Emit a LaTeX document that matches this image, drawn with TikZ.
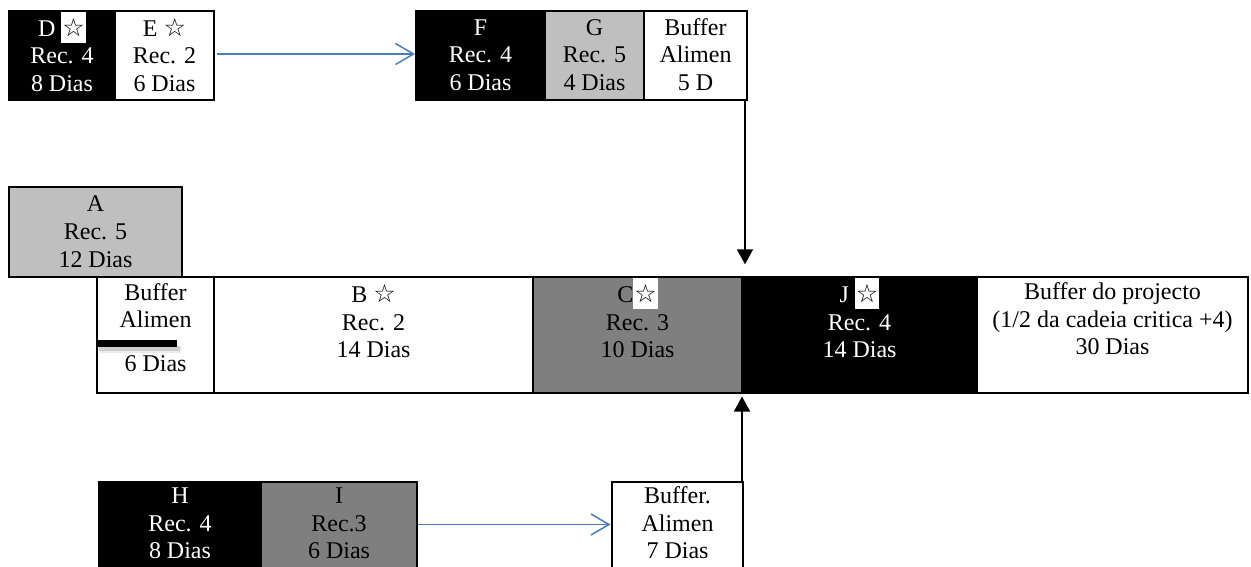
\documentclass[tikz,border=0pt]{standalone}
\usepackage{fontspec}
\setmainfont{Liberation Serif}
\newfontfamily\starfont{DejaVu Sans}
\usetikzlibrary{arrows.meta}

\definecolor{lgray}{HTML}{BFBFBF}
\definecolor{mgray}{HTML}{7F7F7F}
\definecolor{flowblue}{HTML}{4A7EBB}

% outlined star, plain and on a white patch
\newcommand\ostar{{\starfont\fontsize{25}{25}\selectfont ☆}}
\newcommand\wstar{\smash{\setlength\fboxsep{0pt}\colorbox{white}{\makebox[24.5pt]{\rule[-6.5pt]{0pt}{31pt}\color{black}\ostar}}}}

\tikzset{
  cellbox/.style={draw=black, line width=1.6pt, anchor=north west, inner sep=0pt, outer sep=0pt},
  celltext/.style={anchor=north, inner sep=0pt, align=center,
    font=\fontsize{24}{27.6}\selectfont},
  bluearrow/.style={draw=flowblue, line width=1.5pt,
    -{Straight Barb[length=18pt, width=21pt, line width=1.5pt]}},
  blackarrow/.style={draw=black, line width=1.5pt,
    -{Triangle[length=15pt, width=16pt]}},
}

% task cell: name, x1, y1, x2, y2, fill, text colour, first baseline below top, text
\newcommand\cell[9]{%
  \node[cellbox, fill=#6, minimum width=#4pt-#2pt, minimum height=#5pt-#3pt] (#1) at (#2,#3) {};
  \node[celltext, text=#7] (#1-txt) at ([yshift={19.32pt-#8pt}]#1.north) {\strut #9};
}

\begin{document}
\begin{tikzpicture}[x=1pt, y=-1pt]
\useasboundingbox (0,0) rectangle (1251,567);

% feeding chain D - E
\cell{D}{9}{11}{115}{100}{black}{white}{25}{D \wstar\\Rec. 4\\8 Dias}
\cell{E}{115}{11}{214}{100}{white}{black}{25}{E \ostar\\Rec. 2\\6 Dias}

% feeding chain F - G with its buffer
\cell{F}{416}{11}{545}{100}{black}{white}{24}{F\\Rec. 4\\6 Dias}
\cell{G}{545}{11}{644}{100}{lgray}{black}{24}{G\\Rec. 5\\4 Dias}
\cell{bufFG}{644}{11}{747}{100}{white}{black}{24}{Buffer\\Alimen\\5 D}

% activity A
\cell{A}{9}{187}{182}{277}{lgray}{black}{24.7}{A\\Rec. 5\\12 Dias}

% critical chain
\cell{bufA}{97}{277}{214}{393}{white}{black}{23}{Buffer\\Alimen\\[16pt]6 Dias}
\cell{B}{214}{277}{533}{393}{white}{black}{25.5}{B \ostar\\Rec. 2\\14 Dias}
\cell{C}{533}{277}{742}{393}{mgray}{black}{25.5}{C\wstar\\Rec. 3\\10 Dias}
\cell{J}{742}{277}{977}{393}{black}{white}{25.5}{J \wstar\\Rec. 4\\14 Dias}
\cell{bufP}{977}{277}{1248}{393}{white}{black}{22.5}{Buffer do projecto\\(1/2 da cadeia critica +4)\\30 Dias}

% bar across the first feeding buffer, with a soft shadow
\fill[black, opacity=0.08] (99,346) rectangle (181,353);
\fill[black, opacity=0.12] (99,346) rectangle (180,350.5);
\fill[black] (97,340) rectangle (177,346.5);

% feeding chain H - I with its buffer
\cell{H}{99}{482}{261}{569}{black}{white}{21.5}{H\\Rec. 4\\8 Dias}
\cell{I}{261}{482}{417}{569}{mgray}{black}{21.5}{I\\Rec.3\\6 Dias}
\cell{bufHI}{612}{482}{743}{569}{white}{black}{21.5}{Buffer.\\Alimen\\7 Dias}

% connectors
\draw[bluearrow, shorten <=3pt, shorten >=1pt] ([yshift=1.5pt]E.east) -- ([yshift=1.5pt]F.west);
\draw[bluearrow, shorten <=1pt, shorten >=1.5pt] ([yshift=1pt]I.east) -- ([yshift=1pt]bufHI.west);

\coordinate (down) at ([xshift=-2pt]bufFG.south east);
\draw[blackarrow, shorten >=12.7pt] (down) -- (down |- J.north);
\coordinate (up) at ([xshift=-1pt]bufHI.north east);
\draw[blackarrow, shorten >=3.5pt] (up) -- (up |- J.south);
\end{tikzpicture}
\end{document}
